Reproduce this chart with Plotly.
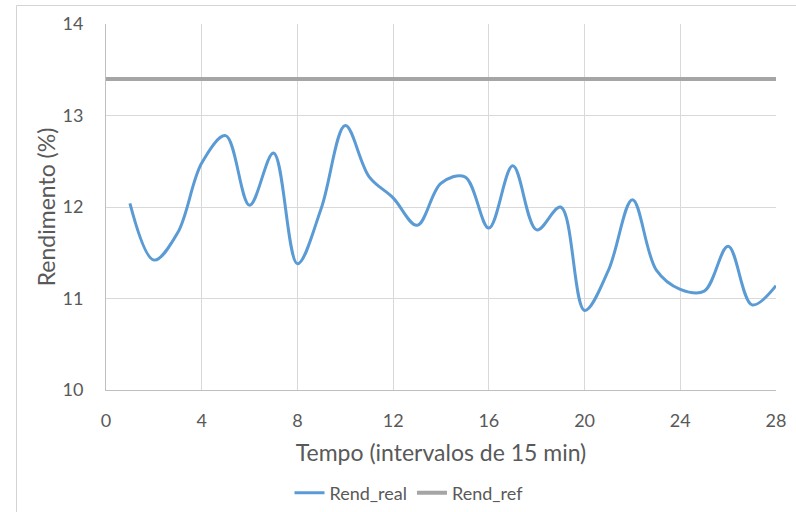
import plotly.graph_objects as go

tempo = list(range(1, 29))
rend_real = [12.04, 11.42, 11.72, 12.48, 12.78, 12.02, 12.59, 11.38, 11.99, 12.89,
             12.33, 12.10, 11.80, 12.26, 12.33, 11.77, 12.45, 11.75, 12.00, 10.87,
             11.31, 12.08, 11.31, 11.10, 11.08, 11.57, 10.93, 11.14]
ref_x = [0, 28]
rend_ref = [13.4, 13.4]

x_ticks = [0, 4, 8, 12, 16, 20, 24, 28]
y_ticks = [10, 11, 12, 13, 14]

FONT = "Lato, 'Open Sans', sans-serif"
TXT = "#595959"
W, H = 796, 512
L, R, T, B = 106, 20, 24, 122
pw, ph = W - L - R, H - T - B

def px(xp):
    return (xp - L) / pw

def py(yp):
    return (H - B - yp) / ph

fig = go.Figure()
fig.add_trace(go.Scatter(x=tempo, y=rend_real, mode="lines", name="Rend_real",
                         line=dict(color="#5B9BD5", width=3, shape="spline", smoothing=1)))
fig.add_trace(go.Scatter(x=ref_x, y=rend_ref, mode="lines", name="Rend_ref",
                         line=dict(color="#A5A5A5", width=4)))

fig.update_layout(
    width=W, height=H,
    margin=dict(l=L, r=R, t=T, b=B, autoexpand=False),
    paper_bgcolor="white", plot_bgcolor="white",
    font=dict(family=FONT, color=TXT),
    xaxis=dict(range=[0, 28], tickvals=x_ticks, showgrid=True, gridcolor="#D9D9D9",
               gridwidth=1, zeroline=False, showline=True, linecolor="#BFBFBF",
               tickfont=dict(size=18, color=TXT), ticks="", ticklen=0,
               ticklabelstandoff=14,
               title=dict(text="Tempo (intervalos de 15 min)", font=dict(size=23, color=TXT), standoff=15),
               fixedrange=True, automargin=False),
    yaxis=dict(range=[10, 14], tickvals=y_ticks, showgrid=True, gridcolor="#D9D9D9",
               gridwidth=1, zeroline=False, showline=True, linecolor="#BFBFBF",
               tickfont=dict(size=18, color=TXT), ticks="", ticklen=0,
               ticklabelstandoff=18,
               title=dict(text="Rendimento (%)", font=dict(size=23, color=TXT), standoff=0),
               fixedrange=True, automargin=False),
    showlegend=True,
    legend=dict(orientation="h", x=px(409), xanchor="center", y=py(493), yanchor="middle",
                font=dict(size=18, color=TXT), itemwidth=30, bgcolor="rgba(0,0,0,0)"),
    shapes=[
        dict(type="rect", xref="paper", yref="paper", x0=px(16.5), x1=px(820), y0=py(540), y1=py(5.5),
             line=dict(color="#D4D4D4", width=1), fillcolor="rgba(0,0,0,0)", layer="above"),
    ],
)

fig.write_html("out.html")
